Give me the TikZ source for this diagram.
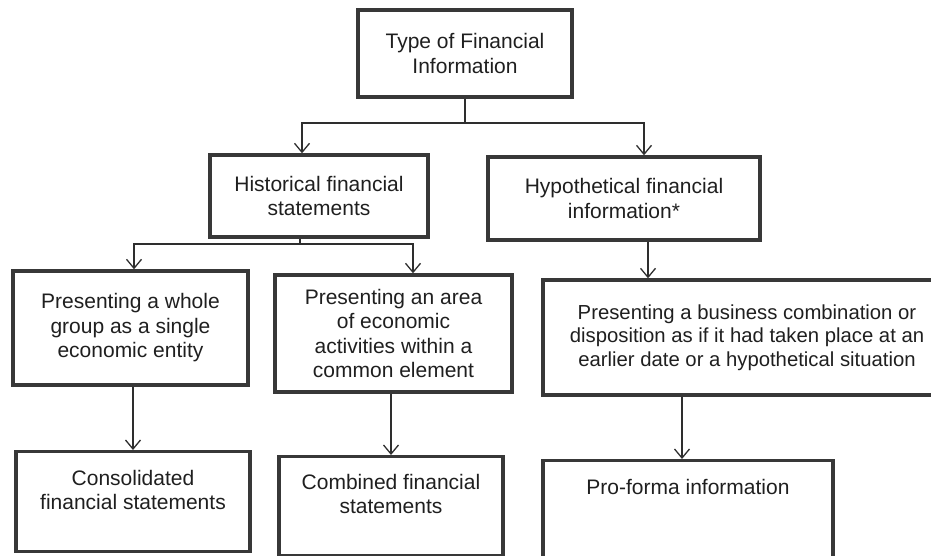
\documentclass[tikz,border=0pt]{standalone}
\usepackage{fontspec}
\setmainfont{Liberation Sans}
\usetikzlibrary{arrows.meta}
\definecolor{boxgray}{gray}{0.22}
\definecolor{linegray}{gray}{0.18}

\begin{document}
\begin{tikzpicture}[x=1pt, y=1pt, font=\fontsize{21}{24.5}\selectfont,
  box/.style={draw=boxgray, line width=3.4pt, align=center, inner sep=0pt,
              text=black!88},
  ln/.style={line width=1.6pt, draw=linegray},
  arr/.style={ln, -{Straight Barb[length=9pt, width=15pt, line width=1.3pt]}}]
  \useasboundingbox (0,0) rectangle (931,-556);
  % ---- root
  \node[box, minimum width=214pt, minimum height=87pt] (type) at (465,-53.5)
       {Type of Financial\\Information};
  % ---- second level: historical vs. hypothetical
  \node[box, minimum width=218pt, minimum height=82pt] (hist) at (319,-196)
       {Historical financial\\statements};
  \node[box, minimum width=272pt, minimum height=83pt] (hypo) at (624,-198.5)
       {Hypothetical financial\\information*};
  % ---- third level: what is being presented
  \node[box, minimum width=235pt, minimum height=114pt] (whole) at (130.5,-328)
       {Presenting a whole\\group as a single\\economic entity};
  \node[box, minimum width=237pt, minimum height=117pt] (area) at (393.5,-333.5)
       {Presenting an area\\of economic\\activities within a\\common element};
  \node[box, minimum width=408pt, minimum height=115pt,
        font=\fontsize{20.3}{23.5}\selectfont] (biz) at (747,-337.5)
       {Presenting a business combination or\\disposition as if it had taken place at an\\earlier date or a hypothetical situation};
  % ---- leaves (text sits in the upper part of the box)
  \node[box, minimum width=234pt, anchor=north, text height=58pt, text depth=42pt]
       (consol) at (133,-450) {Consolidated\\financial statements};
  \node[box, minimum width=224pt, anchor=north, text height=57pt, text depth=42pt]
       (comb) at (391,-455) {Combined financial\\statements};
  \node[box, minimum width=290pt, anchor=north, text height=34pt, text depth=100pt]
       (pro) at (688,-459) {Pro-forma information};
  % ---- connectors
  \coordinate (j1) at (465,-123);
  \draw[ln]  (type.south) -- (j1);
  \draw[arr] (j1) -| ([xshift=-17pt]hist.north);
  \draw[arr] (j1) -| ([xshift=20pt]hypo.north);
  \coordinate (j2) at (300,-244);
  \draw[ln]  ([xshift=-19pt]hist.south) -- (j2);
  \draw[arr] (j2) -| ([xshift=3.5pt]whole.north);
  \draw[arr] (j2) -| ([xshift=19.5pt]area.north);
  \draw[arr] ([xshift=24pt]hypo.south) -- ([xshift=24pt]hypo.south |- biz.north);
  \draw[arr] (consol.north |- whole.south) -- (consol.north);
  \draw[arr] (comb.north |- area.south) -- (comb.north);
  \draw[arr] ([xshift=-6pt]pro.north |- biz.south) -- ([xshift=-6pt]pro.north);
\end{tikzpicture}
\end{document}
